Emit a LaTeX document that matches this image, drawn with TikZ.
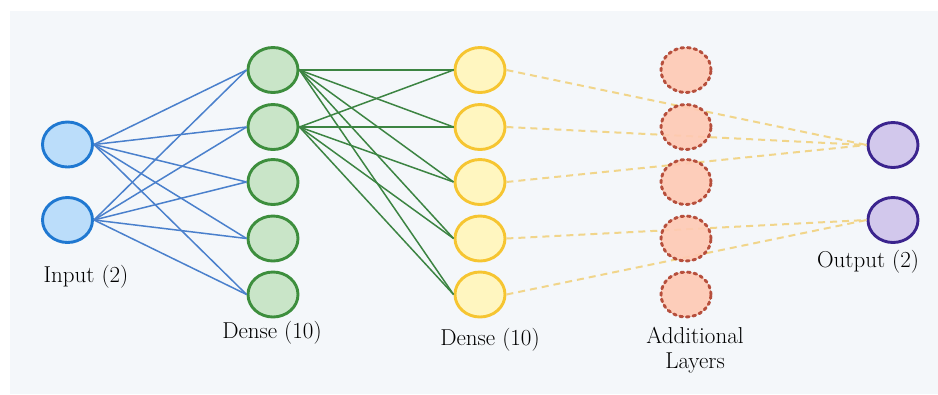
\documentclass[tikz,border=0pt]{standalone}
\usetikzlibrary{shapes.geometric}
\definecolor{panel}{HTML}{F4F7FA}
\definecolor{inFill}{HTML}{BBDDFA}
\definecolor{inDraw}{HTML}{1F78D1}
\definecolor{dAFill}{HTML}{C9E5C8}
\definecolor{dADraw}{HTML}{3D8E3D}
\definecolor{dBFill}{HTML}{FFF6C0}
\definecolor{dBDraw}{HTML}{F6C531}
\definecolor{adFill}{HTML}{FFC9B4}
\definecolor{adDraw}{HTML}{B0402C}
\definecolor{outFill}{HTML}{D2C8EC}
\definecolor{outDraw}{HTML}{3B248E}
\definecolor{blueLine}{HTML}{4A80CC}
\definecolor{greenLine}{HTML}{3C8442}
\definecolor{yelLine}{HTML}{F1D58A}
\tikzset{
  neuron/.style={ellipse, inner sep=0pt, minimum width=50pt, minimum height=45pt, line width=2.9pt},
  inN/.style={neuron, fill=inFill, draw=inDraw},
  dAN/.style={neuron, fill=dAFill, draw=dADraw},
  dBN/.style={neuron, fill=dBFill, draw=dBDraw},
  adN/.style={neuron, fill=adFill, fill opacity=0.9, draw=adDraw, draw opacity=0.9, dash pattern=on 2.8pt off 3.8pt, line cap=round},
  outN/.style={neuron, fill=outFill, draw=outDraw},
  lbl/.style={font=\fontsize{23}{25.5}\selectfont, text=black, align=center, inner sep=0pt},
  blink/.style={blueLine, line width=1.5pt},
  glink/.style={greenLine, line width=1.5pt},
  ylink/.style={yelLine, line width=2pt, dash pattern=on 7pt off 5pt},
}
\begin{document}
\begin{tikzpicture}[x=1pt,y=-1pt]
\useasboundingbox (0,0) rectangle (938,394);
\fill[panel] (10,11) rectangle (938,394);
% nodes
\node[inN] (i1) at (67.5,144.5) {};
\node[inN] (i2) at (67.5,220) {};
\foreach \k/\y in {1/70,2/127,3/182,4/238.5,5/294.5}{
  \node[dAN] (a\k) at (273,\y) {};
  \node[dBN] (b\k) at (480,\y) {};
}
\node[outN] (o1) at (893,145) {};
\node[outN] (o2) at (893,220) {};
% links
\foreach \i in {1,2}{
  \foreach \k in {1,...,5}{
    \draw[blink] (i\i.east) -- (a\k.west);
  }
}
\foreach \i in {1,2}{
  \foreach \k in {1,...,5}{
    \draw[glink] (a\i.east) -- (b\k.west);
  }
}
\draw[ylink] (b1.east) -- (o1.west);
\draw[ylink] (b2.east) -- (o1.west);
\draw[ylink] (b3.east) -- (o1.west);
\draw[ylink] (b4.east) -- (o2.west);
\draw[ylink] (b5.east) -- (o2.west);
% additional layer nodes (drawn over dashed links)
\foreach \k/\y in {1/70,2/127,3/182,4/238.5,5/294.5}{
  \node[adN] (c\k) at (686,\y) {};
}
% labels
\node[lbl] (li) at (86,277) {Input (2)};
\node[lbl] (la) at (272,333) {Dense (10)};
\node[lbl] (lb) at (490,340) {Dense (10)};
\node[lbl] (lc) at (695,350) {Additional\\[-1pt]Layers};
\node[lbl] (lo) at (868,262) {Output (2)};
\end{tikzpicture}
\end{document}
